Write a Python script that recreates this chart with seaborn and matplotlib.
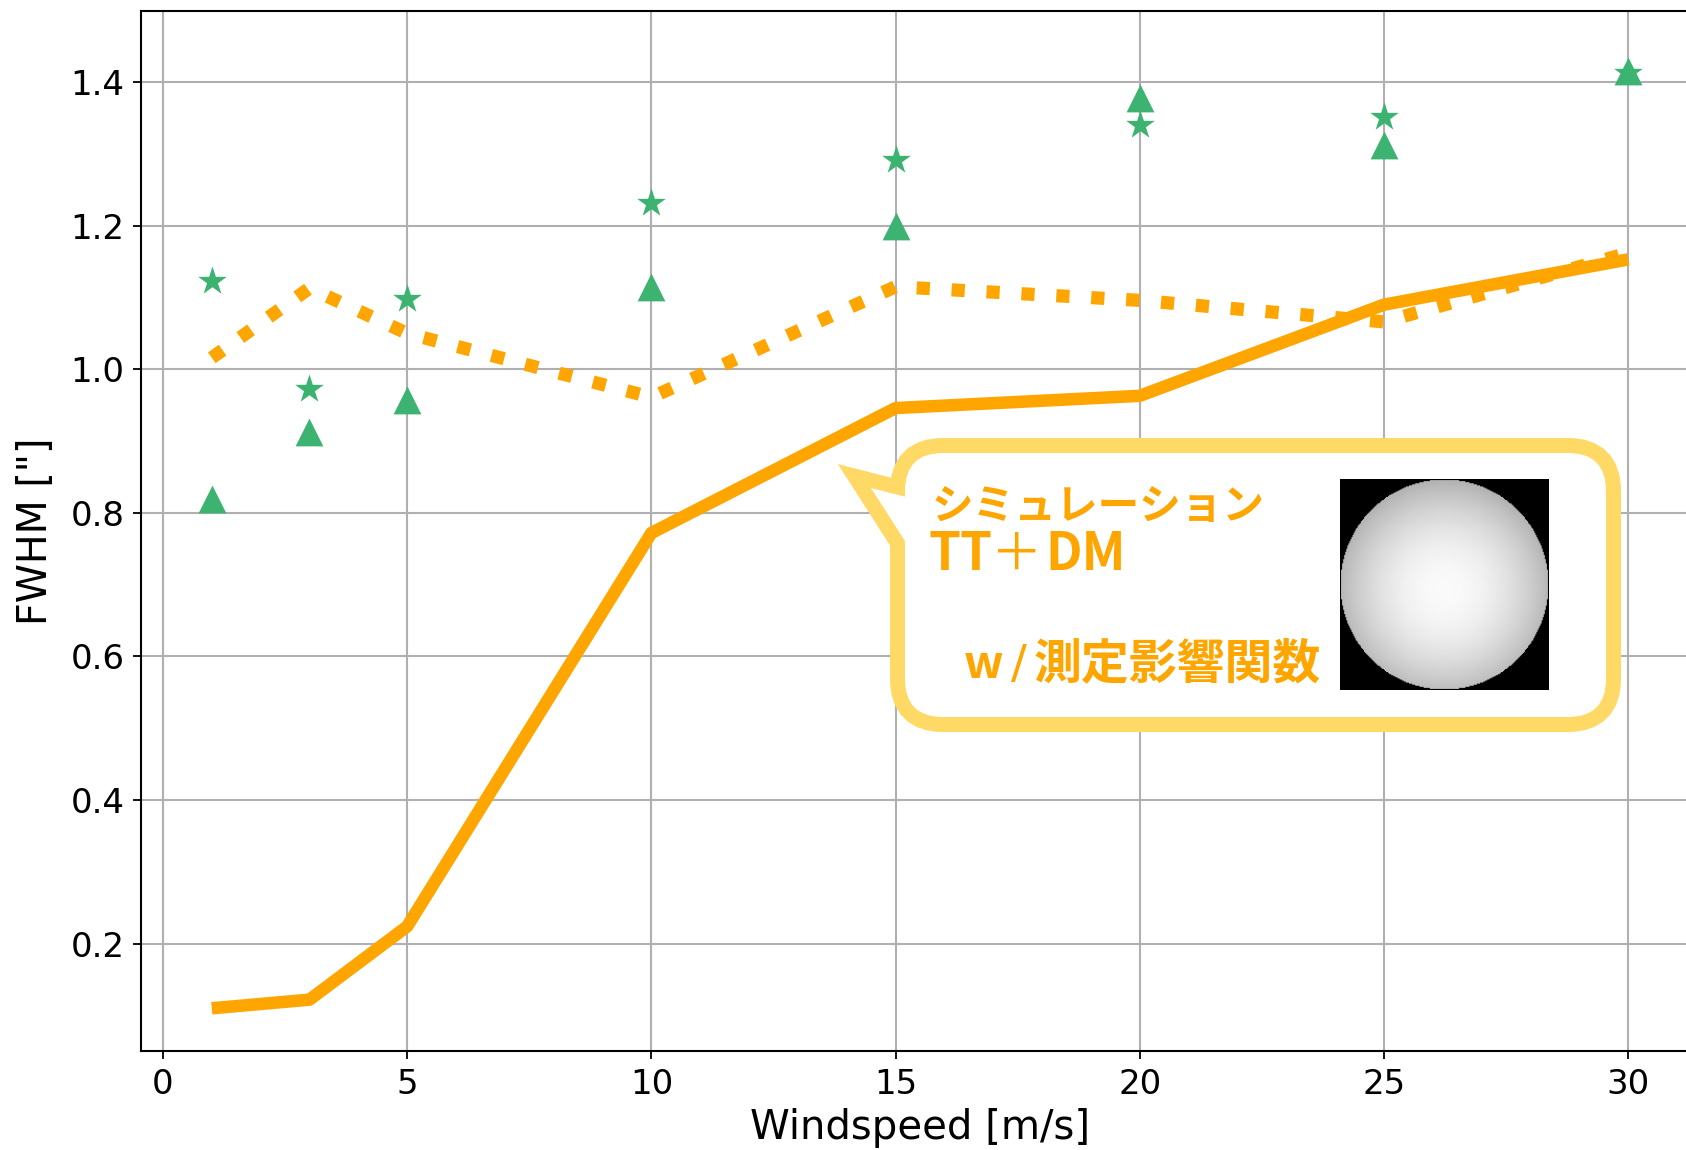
import matplotlib
matplotlib.use("Agg")
import matplotlib.pyplot as plt
import numpy as np
import seaborn as sns
from matplotlib.patches import FancyBboxPatch, Polygon

# values
windspeed = [1, 3, 5, 10, 15, 20, 25, 30]
sim_solid = [0.110, 0.122, 0.224, 0.772, 0.946, 0.963, 1.090, 1.153]
sim_dotted = [1.016, 1.113, 1.050, 0.961, 1.115, 1.096, 1.066, 1.162]
obs_triangle = [0.820, 0.913, 0.957, 1.114, 1.199, 1.378, 1.312, 1.416]
obs_star = [1.123, 0.972, 1.098, 1.232, 1.291, 1.340, 1.351, 1.413]
x_ticks = [0, 5, 10, 15, 20, 25, 30]
y_ticks = [0.2, 0.4, 0.6, 0.8, 1.0, 1.2, 1.4]

orange = "#FFA500"
green = "#3CB371"
yellow = "#FFD966"

sns.set_theme(style="ticks")
plt.rcParams["font.family"] = ["DejaVu Sans"]
plt.rcParams["text.color"] = "black"
plt.rcParams["axes.labelcolor"] = "black"
plt.rcParams["xtick.color"] = "black"
plt.rcParams["ytick.color"] = "black"

W, H = 1686, 1150
fig = plt.figure(figsize=(W / 100, H / 100), dpi=100)
ax = fig.add_axes([141 / W, 1 - 1051 / H, (1699 - 141) / W, (1051 - 11) / H])

sns.lineplot(x=windspeed, y=sim_solid, ax=ax, color=orange, lw=9, solid_capstyle="butt")
sns.lineplot(x=windspeed, y=sim_dotted, ax=ax, color=orange, lw=9.5, linestyle=":")
sns.scatterplot(x=windspeed, y=obs_triangle, ax=ax, color=green, marker="^", s=400, linewidth=0, zorder=3)
sns.scatterplot(x=windspeed, y=obs_star, ax=ax, color=green, marker="*", s=470, linewidth=0, zorder=3)

ax.set_xlim(-0.45, 31.45)
ax.set_ylim(0.0505, 1.499)
ax.set_xticks(x_ticks)
ax.set_yticks(y_ticks)
ax.set_yticklabels([f"{v:.1f}" for v in y_ticks])
ax.grid(True, color="#b0b0b0", lw=1.5)
ax.set_axisbelow(True)
for s in ax.spines.values():
    s.set_color("black")
    s.set_linewidth(1.5)
ax.tick_params(labelsize=24.5, length=6, width=1.3, pad=6, color="black", labelcolor="black")
ax.set_xlabel("Windspeed [m/s]", fontsize=29, labelpad=5)
ax.set_ylabel('FWHM ["]', fontsize=28.5, labelpad=10)

# callout overlay in pixel coordinates
ov = fig.add_axes([0, 0, 1, 1])
ov.set_xlim(0, W)
ov.set_ylim(H, 0)
ov.axis("off")

bx0, by0, bx1, by1 = 905, 453, 1606, 717
tail = [(871, 488), (930, 503), (930, 580)]
for fc, ec, lw, z in [(yellow, yellow, 21.6, 5), ("white", "none", 0, 6)]:
    ov.add_patch(FancyBboxPatch((bx0, by0), bx1 - bx0, by1 - by0,
                                boxstyle="round,pad=0,rounding_size=38",
                                fc=fc, ec=ec, lw=lw, zorder=z))
    ov.add_patch(Polygon(tail, closed=True, fc=fc, ec=ec, lw=lw, zorder=z,
                         joinstyle="miter"))

cjk = ["Noto Sans CJK JP", "DejaVu Sans"]
txt = dict(color=orange, family=cjk, va="baseline", zorder=7)
ov.text(932, 519, "シミュレーション", fontsize=30, fontweight="bold", ha="left", **txt)
ov.text(929, 570, "TT", fontsize=37, fontweight="bold", ha="left", **txt)
ov.text(1017, 570, "＋", fontsize=37, fontweight="normal", ha="center", **txt)
ov.text(1045, 570, "DM", fontsize=37, fontweight="bold", ha="left", **txt)
ov.text(964, 678, "w", fontsize=33, fontweight="bold", ha="left", **txt)
ov.text(1019, 678, "/", fontsize=34, fontweight="normal", ha="center", color=orange,
        family="DejaVu Sans", va="baseline", zorder=7)
ov.text(1034, 678, "測定影響関数", fontsize=34.5, fontweight="bold", ha="left", **txt)

# pupil illustration
n = 200
yy, xx = np.mgrid[-1:1:n * 1j, -1:1:n * 1j]
rr = np.sqrt(xx ** 2 + (yy - 0.05) ** 2)
img = np.where(np.sqrt(xx ** 2 + yy ** 2) <= 1.0, 0.98 - 0.26 * rr ** 2, 0.0)
ov.imshow(img, cmap="gray", vmin=0, vmax=1, extent=(1340, 1549, 690, 479),
          aspect="auto", zorder=7, interpolation="bilinear")
ov.set_xlim(0, W)
ov.set_ylim(H, 0)

fig.savefig("out.png", dpi=100)
